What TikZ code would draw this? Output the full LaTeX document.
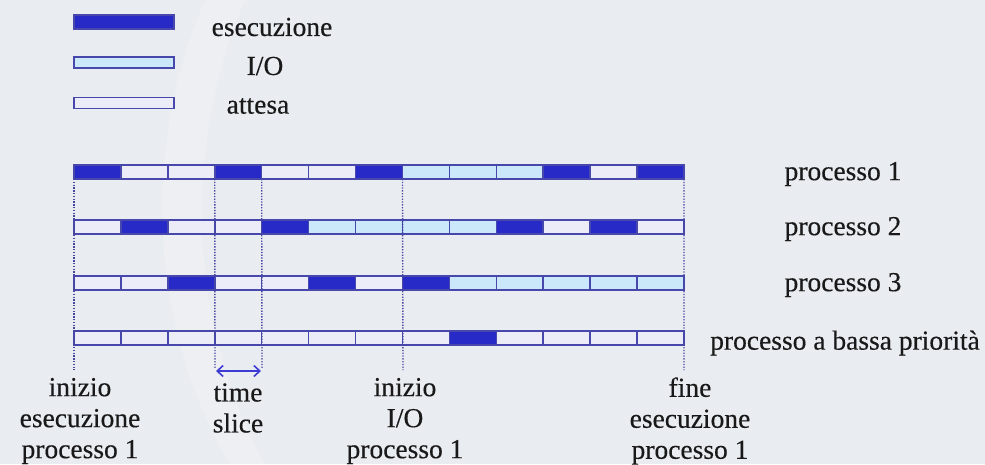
\documentclass[tikz,border=0pt]{standalone}
\usepackage{fontspec}
\setmainfont{Liberation Serif}[FakeBold=0.35]
\usetikzlibrary{arrows.meta}
\definecolor{bgc}{RGB}{233,236,240}
\definecolor{execc}{RGB}{40,42,200}
\definecolor{iofill}{RGB}{202,232,250}
\definecolor{waitfill}{RGB}{236,236,248}
\definecolor{bordc}{RGB}{72,72,172}
\definecolor{dotc}{RGB}{70,70,160}
\definecolor{textc}{RGB}{25,25,25}
\definecolor{arrc}{RGB}{60,60,210}
\begin{document}
\begin{tikzpicture}[x=1pt,y=-1pt,
  seg/.style={draw=bordc, line width=1.5pt, minimum width=46.92pt, minimum height=14pt, inner sep=0pt, outer sep=0pt, anchor=west},
  segE/.style={seg, fill=execc},
  segI/.style={seg, fill=iofill},
  segW/.style={seg, fill=waitfill},
  legbar/.style={draw=bordc, line width=1.5pt, minimum width=100pt, inner sep=0pt, outer sep=0pt, anchor=west},
  lab/.style={font=\fontsize{27.5}{31}\selectfont, text=textc, inner sep=0pt},
  blab/.style={lab, align=center},
  vdot/.style={draw=dotc, line width=1.4pt, dash pattern=on 1.3pt off 1.5pt}
]
\useasboundingbox (0,0) rectangle (985,464);
\fill[bgc] (0,0) rectangle (985,464);
% faint swoosh
\fill[white, opacity=0.2] (205,0) .. controls (140,150) and (150,330) .. (230,464) -- (265,464) .. controls (190,330) and (180,150) .. (245,0) -- cycle;

% legend
\node[legbar, fill=execc, minimum height=14pt] (legE) at (74,22) {};
\node[legbar, fill=iofill, minimum height=11pt] (legI) at (74,62.5) {};
\node[legbar, fill=waitfill, minimum height=11pt] (legW) at (74,103) {};
\node[lab] (tE) at (272,27) {esecuzione};
\node[lab] (tI) at (265,66) {I/O};
\node[lab] (tW) at (258,106) {attesa};

% rows
\foreach \t [count=\i] in {E,W,W,E,W,W,E,I,I,I,E,W,E}
  \node[seg\t] (p1s\i) at ({74+(\i-1)*46.923},172) {};
\foreach \t [count=\i] in {W,E,W,W,E,I,I,I,I,E,W,E,W}
  \node[seg\t] (p2s\i) at ({74+(\i-1)*46.923},227) {};
\foreach \t [count=\i] in {W,W,E,W,W,E,W,E,I,I,I,I,I}
  \node[seg\t] (p3s\i) at ({74+(\i-1)*46.923},283) {};
\foreach \t [count=\i] in {W,W,W,W,W,W,W,W,E,W,W,W,W}
  \node[seg\t] (p4s\i) at ({74+(\i-1)*46.923},338) {};

% row labels
\node[lab] (l1) at (843,174) {processo 1};
\node[lab] (l2) at (843,229) {processo 2};
\node[lab] (l3) at (843,285) {processo 3};
\node[lab] (l4) at (845,343) {processo a bassa priorità};

% dotted markers
\coordinate (d1) at (74,370);
\coordinate (d4) at (215,368);
\coordinate (d5) at (262,368);
\coordinate (d8) at (403,370);
\coordinate (d13) at (684,370);
\draw[vdot] (p1s1.south west) -- (d1);
\draw[vdot] (p1s4.south west) -- (d4);
\draw[vdot] (p1s5.south west) -- (d5);
\draw[vdot] (p1s8.south west) -- (d8);
\draw[vdot] (p1s13.south east) -- (d13);

% time slice arrow
\coordinate (ts1) at (216,371);
\coordinate (ts2) at (261,371);
\draw[arrc, line width=1.6pt, {Straight Barb[length=6pt,width=11pt]}-{Straight Barb[length=6pt,width=11pt]}] (ts1) -- (ts2);

% bottom labels
\node[blab] (b1) at (80,421) {inizio\\esecuzione\\processo 1};
\node[blab] (b2) at (238,408) {time\\slice};
\node[blab] (b3) at (405,421) {inizio\\I/O\\processo 1};
\node[blab] (b4) at (690,421) {fine\\esecuzione\\processo 1};
\end{tikzpicture}
\end{document}
